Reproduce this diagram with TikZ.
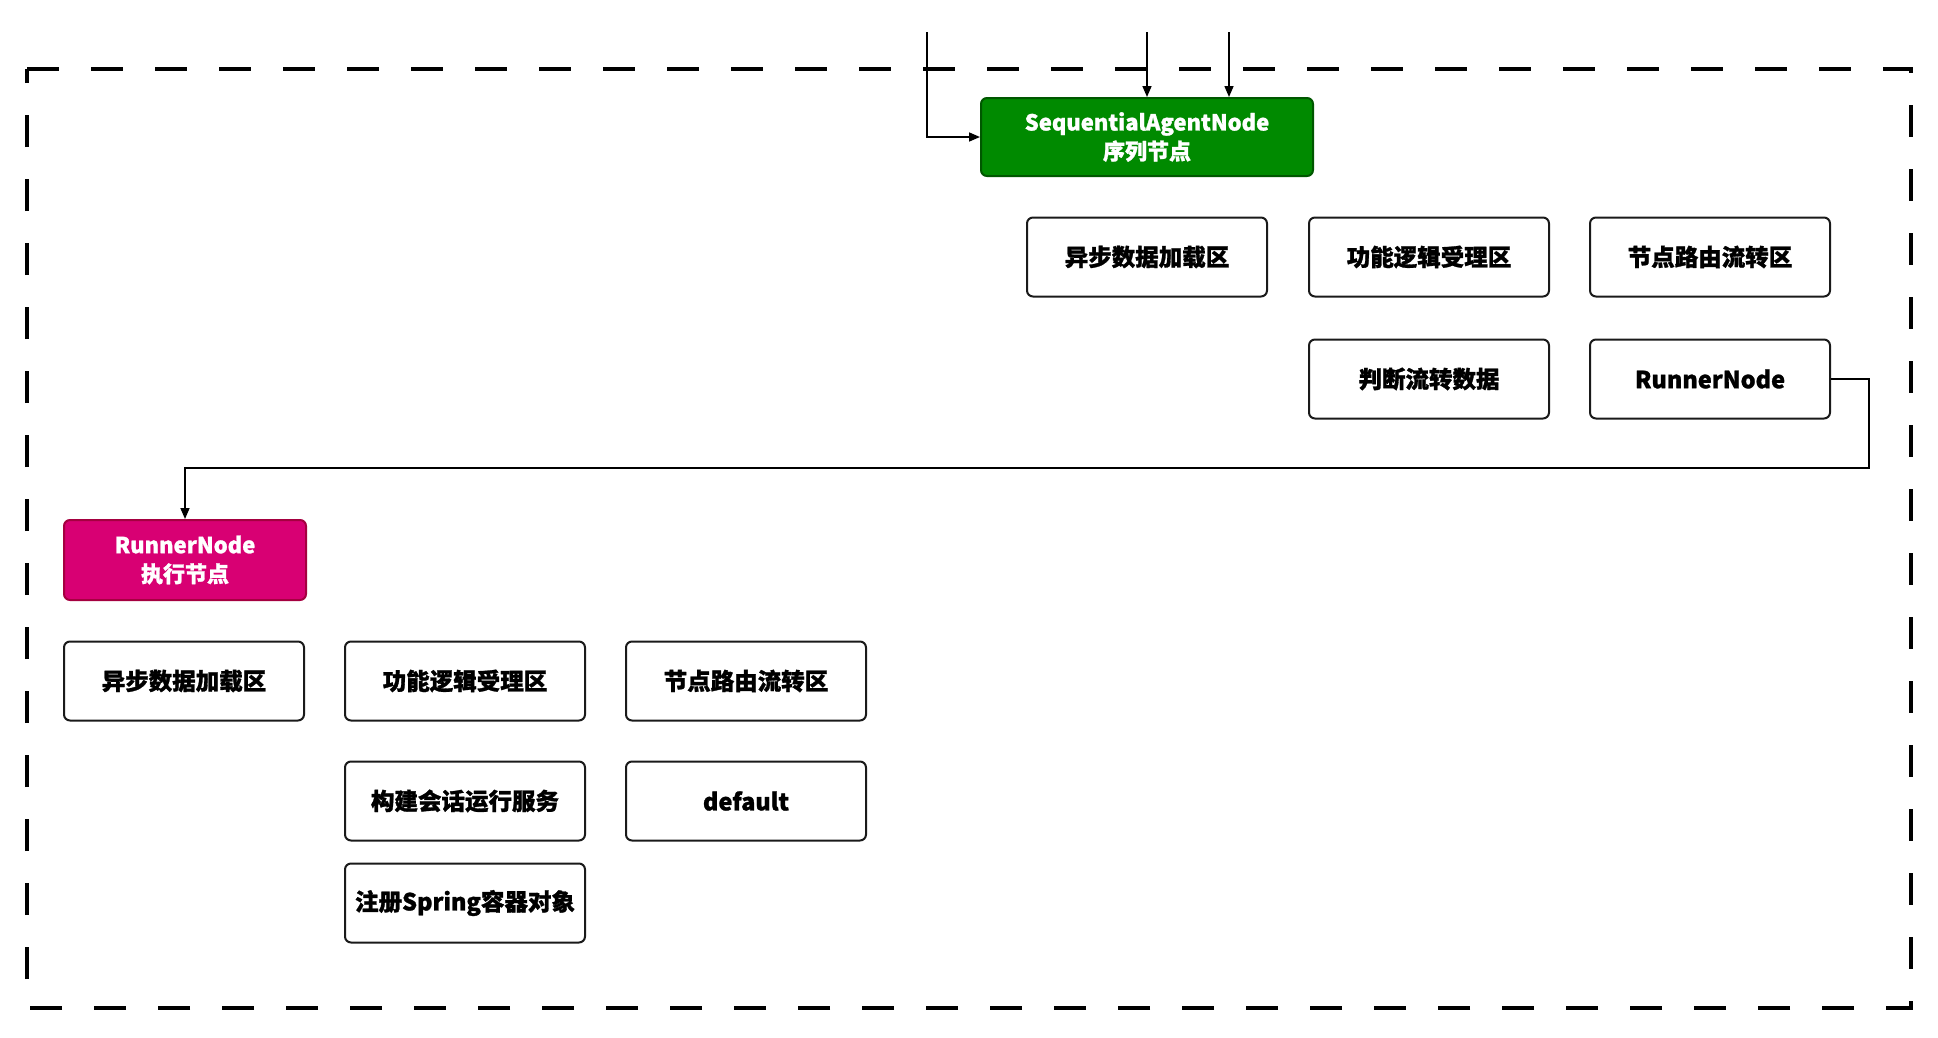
\documentclass[tikz,border=0pt]{standalone}
\usepackage{fontspec}
\setmainfont{Noto Sans CJK SC}[BoldFeatures={FakeBold=1.2}]
\usepackage{tikz}
\usetikzlibrary{arrows.meta,positioning}
\definecolor{seqgreen}{HTML}{008A00}
\definecolor{seqgreenline}{HTML}{005700}
\definecolor{runred}{HTML}{D80073}
\definecolor{runredline}{HTML}{A50040}
\definecolor{boxline}{HTML}{1A1A1A}
\tikzset{
  outline/.style={black, line width=4pt, dash pattern=on 32pt off 32pt},
  flow/.style={black, line width=1.6pt, -{Triangle[length=11pt,width=9pt]}},
  areanode/.style={draw=boxline, fill=white, rounded corners=6pt, line width=2pt, minimum width=240pt, minimum height=79pt, align=center, font=\fontsize{23.5}{28}\selectfont\bfseries},
  seqnode/.style={draw=seqgreenline, fill=seqgreen, text=white, rounded corners=6pt, line width=2pt, minimum width=332pt, minimum height=78pt, align=center, font=\fontsize{22}{29}\selectfont\bfseries},
  runnode/.style={draw=runredline, fill=runred, text=white, rounded corners=6pt, line width=2pt, minimum width=242pt, minimum height=80pt, align=center, font=\fontsize{22}{29}\selectfont\bfseries}
}
\begin{document}
\begin{tikzpicture}[x=1pt,y=-1pt]
  \useasboundingbox (0,0) rectangle (1938,1037);
  % outer dashed frame
  \draw[outline] (27,69) -- (1911,69) -- (1911,1008) -- (27,1008) -- cycle;

  % sequential node and its zones
  \node[seqnode] (seq) at (1147,137) {SequentialAgentNode\\序列节点};
  \node[areanode] (seqload) at (1147,257) {异步数据加载区};
  \node[areanode] (seqlogic) at (1429,257) {功能逻辑受理区};
  \node[areanode] (seqroute) at (1710,257) {节点路由流转区};
  \node[areanode] (seqjudge) at (1429,379) {判断流转数据};
  \node[areanode] (seqnext) at (1710,379) {RunnerNode};

  % runner node and its zones
  \node[runnode] (run) at (185,560) {RunnerNode\\执行节点};
  \node[areanode] (runload) at (184,681) {异步数据加载区};
  \node[areanode] (runlogic) at (465,681) {功能逻辑受理区};
  \node[areanode] (runroute) at (746,681) {节点路由流转区};
  \node[areanode] (runbuild) at (465,801) {构建会话运行服务};
  \node[areanode] (rundefault) at (746,801) {default};
  \node[areanode] (runspring) at (465,903) {注册Spring容器对象};

  % incoming lines from above
  \coordinate (inleft) at (927,32);
  \coordinate (inmid) at (1147,32);
  \coordinate (inright) at (1229,32);
  \draw[flow] (inleft) |- (seq.west);
  \draw[flow] (inmid) -- (seq.north);
  \draw[flow] (inright) -- (inright |- seq.north);

  % RunnerNode hand over
  \coordinate (turn) at (1869,468);
  \draw[flow] (seqnext.east) -| (turn) -| (run.north);
\end{tikzpicture}
\end{document}
